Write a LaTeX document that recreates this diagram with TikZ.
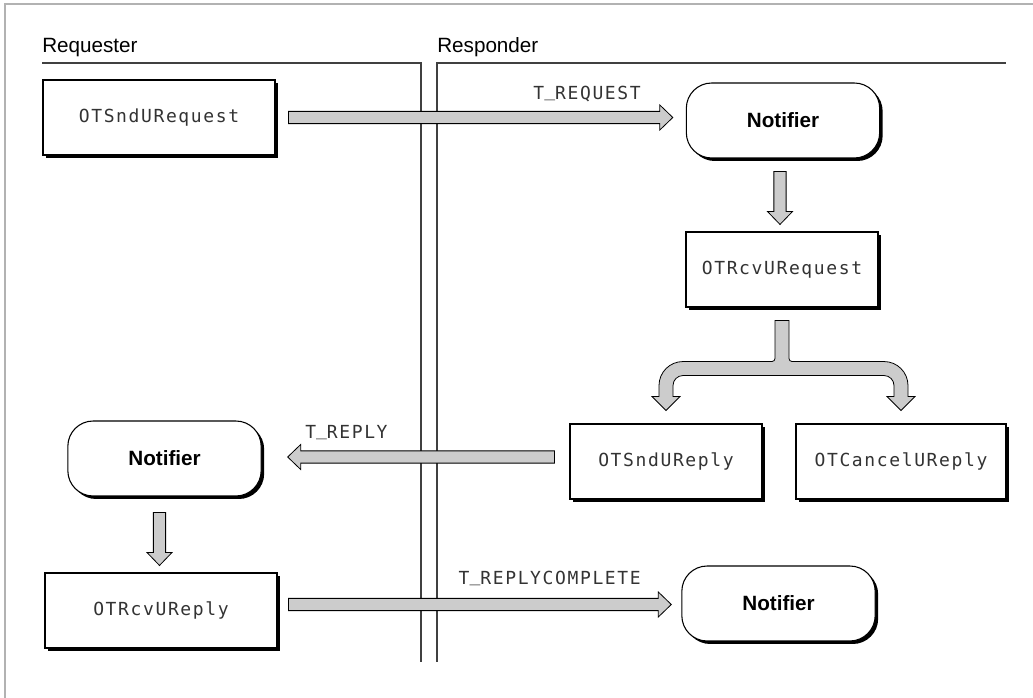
\documentclass[tikz,border=0pt]{standalone}
\usepackage{fontspec}
\setmainfont{Liberation Sans}
\newfontfamily\codefont[LetterSpace=9]{DejaVu Sans Mono}
\usetikzlibrary{calc,shadows}

\tikzset{
  codebox/.style={draw, fill=white, line width=0.8pt, minimum width=174pt,
    minimum height=56.25pt, inner sep=0pt, text=black!80,
    font=\codefont\fontsize{13.5pt}{16pt}\selectfont,
    drop shadow={shadow xshift=2.25pt, shadow yshift=-2.25pt, fill=black, opacity=1}},
  notifier/.style={codebox, rounded corners=19pt, minimum width=145pt, text=black,
    font=\bfseries\fontsize{15.5pt}{18pt}\selectfont},
  blockarrow/.style={draw, fill=black!20, line width=0.6pt, line join=miter},
  msg/.style={inner sep=0pt, text=black!80, font=\codefont\fontsize{13.5pt}{16pt}\selectfont},
  heading/.style={anchor=base west, inner sep=0pt, font=\fontsize{15.5pt}{18pt}\selectfont},
  lane/.style={line width=0.9pt, black!75}
}

% fat arrow from #1 to #2
\newcommand{\blockarrow}[2]{%
  \draw[blockarrow] let \p1=(#1), \p2=(#2),
    \n1={veclen(\x2-\x1,\y2-\y1)}, \n2={atan2(\y2-\y1,\x2-\x1)} in
    [shift={(\p1)}, rotate=\n2]
    (0pt,-4.6pt) -- (\n1-9.75pt,-4.6pt) -- (\n1-9.75pt,-9.4pt) -- (\n1,0pt)
    -- (\n1-9.75pt,9.4pt) -- (\n1-9.75pt,4.6pt) -- (0pt,4.6pt) -- cycle;}
\newcommand{\us}{\raisebox{0.22em}{\char95}}

\begin{document}
\begin{tikzpicture}[x=0.75pt, y=-0.75pt]
    \useasboundingbox (0,0) rectangle (1033,698);
    % Frame
    \draw[black!30, line width=0.9pt] (5,698) -- (5,4) -- (1033,4);
    % Lanes
    \node[heading] (reqhead) at (42,53) {Requester};
    \node[heading] (resphead) at (437,53) {Responder};
    \draw[lane] (42,63) -- (421,63) -- (421,662);
    \draw[lane] (437,662) -- (437,63) -- (1006,63);
    % Calls and notifiers
    \node[codebox] (sndreq) at (159,117.5) {OTSndURequest};
    \node[notifier] (reqnote) at (783,120.5) {Notifier};
    \node[codebox, minimum width=144pt] (rcvreq) at (782,269.5) {OTRcvURequest};
    \node[codebox, minimum width=144pt] (sndreply) at (666,461.5) {OTSndUReply};
    \node[codebox, minimum width=157.5pt] (cancelreply) at (901,461.5) {OTCancelUReply};
    \node[notifier] (replynote) at (164.5,458.5) {Notifier};
    \node[codebox] (rcvreply) at (161,610.5) {OTRcvUReply};
    \node[notifier] (donenote) at (778.5,603.5) {Notifier};
    % Messages
    \node[msg, anchor=base east] (reqmsg) at (641,100) {T\us REQUEST};
    \node[msg, anchor=base west] (replymsg) at (305,439) {T\us REPLY};
    \node[msg, anchor=base east] (donemsg) at (641,585) {T\us REPLYCOMPLETE};
    % Arrows
    \blockarrow{$(sndreq.east)+(13,0)$}{$(reqnote.west |- sndreq.east)+(-13,0)$}
    \blockarrow{$(rcvreq.north |- reqnote.south)+(-2,13)$}{$(rcvreq.north)+(-2,-7)$}
    \blockarrow{$(sndreply.west |- replynote.east)+(-15,-1.5)$}{$(replynote.east)+(26,-1.5)$}
    \blockarrow{$(rcvreply.north |- replynote.south)+(-1.5,16)$}{$(rcvreply.north)+(-1.5,-7)$}
    \blockarrow{$(rcvreply.east |- donenote.west)+(11,1)$}{$(donenote.west)+(-10,1)$}
    % Branch to the two replies
    \coordinate (fork) at ($(rcvreq.south)+(0,61)$);
    \draw[blockarrow]
      ($(rcvreq.south)+(-7,13)$) [rounded corners=2.25pt]
      -- ($(fork)+(-7,-7)$) [rounded corners=18pt]
      -- ($(fork -| sndreply.north)+(-7,-7)$) [sharp corners]
      -- ($(sndreply.north)+(-7,-27)$) -- ($(sndreply.north)+(-14,-27)$)
      -- ($(sndreply.north)+(0,-13)$) -- ($(sndreply.north)+(14,-27)$)
      -- ($(sndreply.north)+(7,-27)$) [rounded corners=7.5pt]
      -- ($(fork -| sndreply.north)+(7,7)$)
      -- ($(fork -| cancelreply.north)+(-7,7)$) [sharp corners]
      -- ($(cancelreply.north)+(-7,-27)$) -- ($(cancelreply.north)+(-14,-27)$)
      -- ($(cancelreply.north)+(0,-13)$) -- ($(cancelreply.north)+(14,-27)$)
      -- ($(cancelreply.north)+(7,-27)$) [rounded corners=18pt]
      -- ($(fork -| cancelreply.north)+(7,-7)$) [rounded corners=2.25pt]
      -- ($(fork)+(7,-7)$) [sharp corners]
      -- ($(rcvreq.south)+(7,13)$) -- cycle;
\end{tikzpicture}
\end{document}
